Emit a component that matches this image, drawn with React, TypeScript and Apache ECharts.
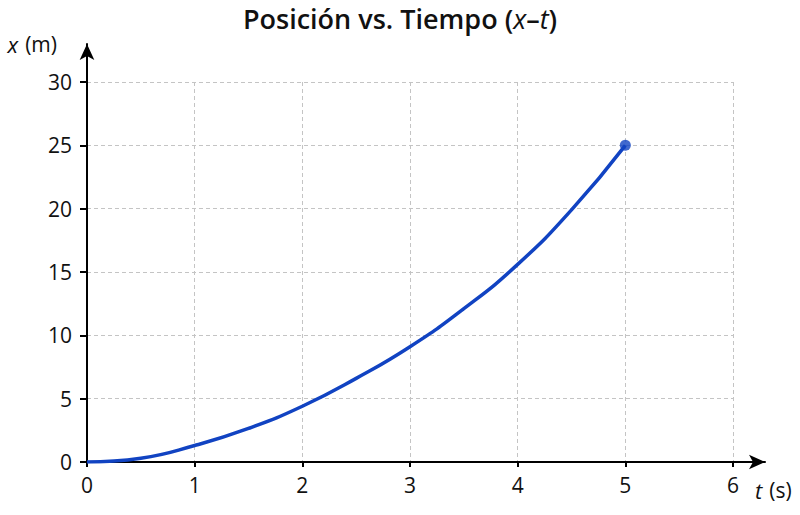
import { useEffect, useRef } from "react";
import * as echarts from "echarts";

// tiempo (s) y posición (m)
const tValues = [0, 0.5, 1, 1.5, 2, 2.5, 3, 3.5, 4, 4.5, 5];
const xValues = [0, 0.3, 1.3, 2.65, 4.4, 6.6, 9.1, 12.1, 15.6, 19.9, 25];
const endPoint = [5, 25];

const FONT = "'Open Sans', 'Noto Sans', sans-serif";
const BLUE = "#1143c2";

export default function App() {
  const ref = useRef<HTMLDivElement | null>(null);

  useEffect(() => {
    const el = ref.current;
    if (!el) {
      return;
    }
    const chart = echarts.init(el, null, { renderer: "svg" });

    const curve = tValues.map((t, i) => [t, xValues[i]]);

    chart.setOption({
      animation: false,
      backgroundColor: "#ffffff",
      title: {
        text: "{n|Posición vs. Tiempo (}{i|x}{n|–}{i|t}{n|)}",
        left: "center",
        top: 0,
        textStyle: {
          rich: {
            n: { fontFamily: FONT, fontSize: 27, fontWeight: 600, color: "#111" },
            i: {
              fontFamily: FONT,
              fontSize: 27,
              fontWeight: "normal",
              fontStyle: "italic",
              color: "#111",
            },
          },
        },
      },
      grid: [
        { left: 87, right: 67, top: 82, bottom: 53, containLabel: false },
        // helper grid, only for the arrowed axis lines
        { left: 87, right: 35, top: 44, bottom: 53, containLabel: false },
      ],
      xAxis: [
        {
          type: "value",
          gridIndex: 0,
          min: 0,
          max: 6,
          interval: 1,
          axisLine: { show: false },
          axisTick: {
            show: true,
            length: 5,
            lineStyle: { color: "#000", width: 2 },
          },
          axisLabel: {
            fontFamily: FONT,
            fontSize: 21,
            color: "#111",
            margin: 12,
          },
          splitLine: {
            show: true,
            lineStyle: { color: "#c4c4c4", type: [4, 3], width: 1 },
          },
        },
        {
          type: "value",
          gridIndex: 1,
          min: 0,
          max: 1,
          axisLine: {
            show: true,
            symbol: ["none", "arrow"],
            symbolSize: [11, 16],
            lineStyle: { color: "#000", width: 2 },
          },
          axisTick: { show: false },
          axisLabel: { show: false },
          splitLine: { show: false },
          name: "{i|t}{n|(s)}",
          nameLocation: "end",
          nameGap: -10,
          nameTextStyle: {
            align: "left",
            verticalAlign: "top",
            padding: [17, 0, 0, 0],
            rich: {
              i: {
                fontFamily: FONT,
                fontSize: 22,
                fontStyle: "italic",
                color: "#111",
                padding: [0, 7, 0, 0],
              },
              n: { fontFamily: FONT, fontSize: 21, color: "#111" },
            },
          },
        },
      ],
      yAxis: [
        {
          type: "value",
          gridIndex: 0,
          min: 0,
          max: 30,
          interval: 5,
          axisLine: { show: false },
          axisTick: {
            show: true,
            length: 7,
            lineStyle: { color: "#000", width: 2 },
          },
          axisLabel: {
            fontFamily: FONT,
            fontSize: 21,
            color: "#111",
            margin: 15,
          },
          splitLine: {
            show: true,
            lineStyle: { color: "#c4c4c4", type: [4, 3], width: 1 },
          },
        },
        {
          type: "value",
          gridIndex: 1,
          min: 0,
          max: 1,
          axisLine: {
            show: true,
            symbol: ["none", "arrow"],
            symbolSize: [11, 16],
            lineStyle: { color: "#000", width: 2 },
          },
          axisTick: { show: false },
          axisLabel: { show: false },
          splitLine: { show: false },
          name: "{i|x}{n|(m)}",
          nameLocation: "end",
          nameGap: 0,
          nameTextStyle: {
            align: "right",
            verticalAlign: "middle",
            padding: [0, 30, 0, 0],
            rich: {
              i: {
                fontFamily: FONT,
                fontSize: 22,
                fontStyle: "italic",
                color: "#111",
                padding: [0, 7, 0, 0],
              },
              n: { fontFamily: FONT, fontSize: 21, color: "#111" },
            },
          },
        },
      ],
      series: [
        {
          type: "line",
          xAxisIndex: 0,
          yAxisIndex: 0,
          data: curve,
          smooth: 0.5,
          showSymbol: false,
          lineStyle: { color: BLUE, width: 3.5 },
          z: 3,
        },
        {
          type: "scatter",
          xAxisIndex: 0,
          yAxisIndex: 0,
          data: [endPoint],
          symbolSize: 11,
          itemStyle: { color: BLUE },
          z: 4,
        },
      ],
    });

    return () => {
      chart.dispose();
    };
  }, []);

  return (
    <div
      ref={ref}
      style={{ position: "absolute", left: 0, top: 0, width: 800, height: 515 }}
    />
  );
}
